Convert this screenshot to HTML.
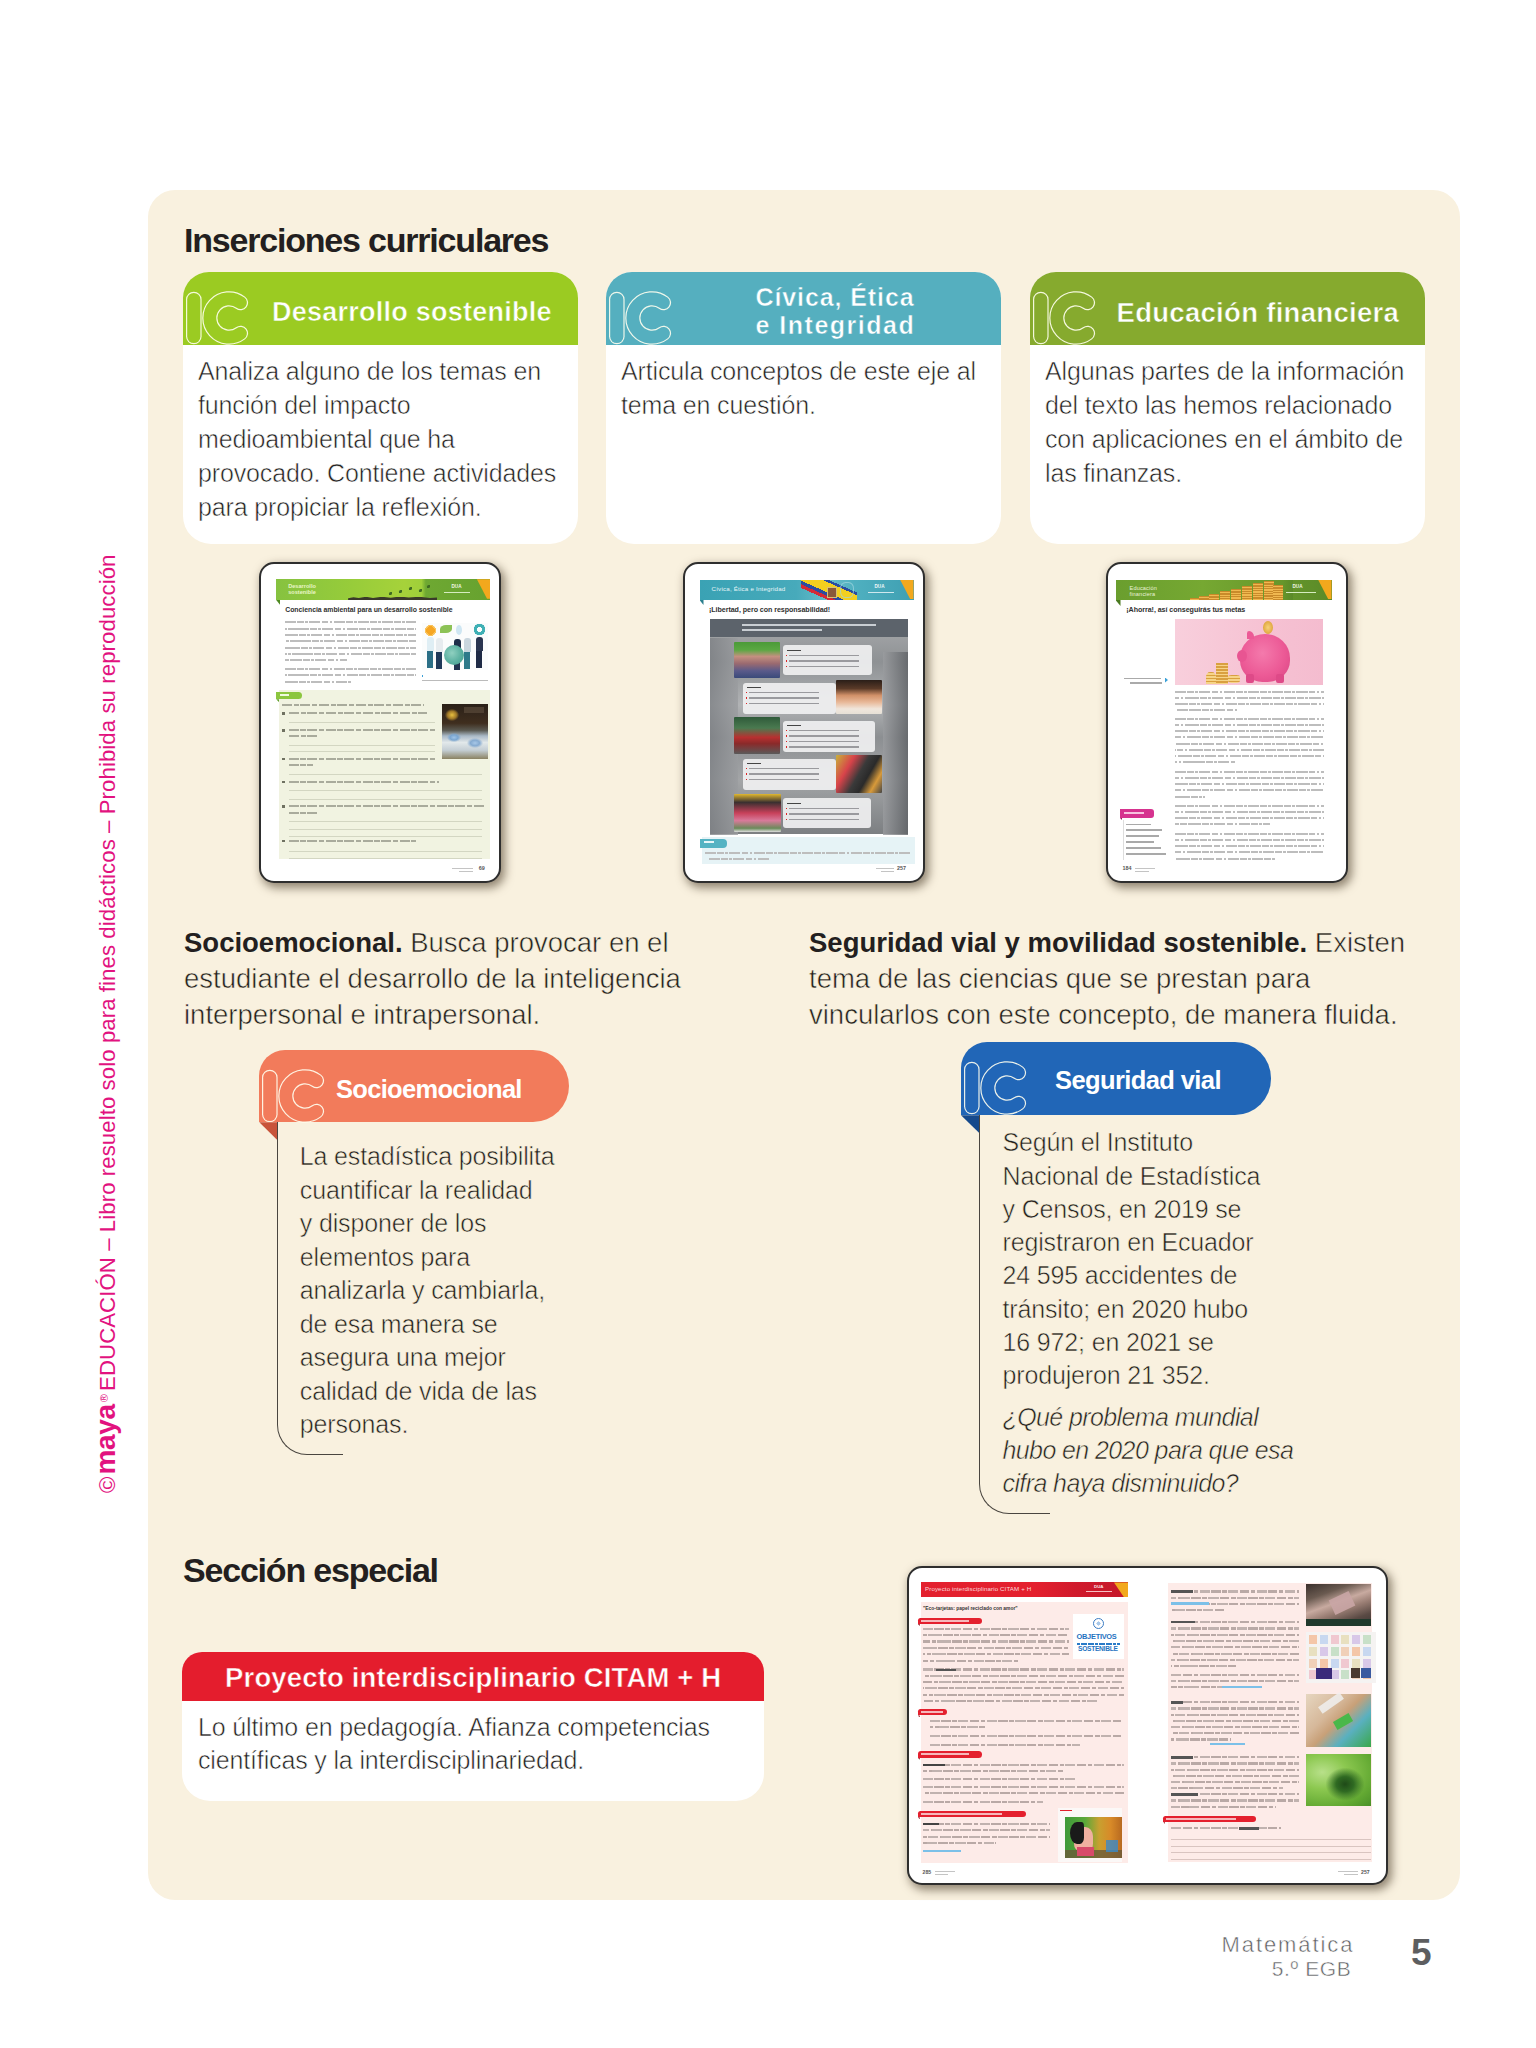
<!DOCTYPE html>
<html lang="es"><head><meta charset="utf-8"><title>Inserciones curriculares</title>
<style>
*{margin:0;padding:0;box-sizing:border-box}
html,body{width:1536px;height:2048px;background:#fff;overflow:hidden}
body{position:relative;font-family:"Liberation Sans",sans-serif;color:#2b2a29}
.a{position:absolute}
.t{position:absolute;white-space:nowrap;line-height:1}
.panel{left:148px;top:190px;width:1312px;height:1710px;background:#f9f1df;border-radius:27px}
.h1{font-weight:bold;font-size:34px;letter-spacing:-1.2px;color:#231f20}
.card{position:absolute;top:272px;width:395px;height:272px;background:#fff;border-radius:26px 26px 28px 28px;overflow:hidden}
.card .hd{position:absolute;left:0;top:0;width:100%;height:73px}
.ht{position:absolute;white-space:nowrap;line-height:1;color:#fff;font-weight:bold}
.body{font-size:25px;letter-spacing:-0.15px;line-height:34px;color:#231f20;-webkit-text-stroke:0.55px var(--sb,#fff)}
.bg{--sb:#f9f1df}
.thin{color:#231f20;-webkit-text-stroke:0.55px #f9f1df}
.thin b{-webkit-text-stroke:0}
.ic{position:absolute;left:0;top:0}
.fr{position:absolute;background:#fff;border:2.2px solid #2e2e2e;border-radius:15px;box-shadow:3px 4px 10px 1px rgba(60,45,25,.55);overflow:hidden}
.fr .a{position:absolute}
</style></head>
<body>
<svg width="0" height="0" style="position:absolute"><defs>
<g id="icg" fill="none" stroke-linecap="round">
<path d="M10.8 27.5V64.5" stroke="currentColor" stroke-width="15.6"/>
<path d="M57.5 30.7A19.15 19.15 0 1 0 57.5 61.3" stroke="currentColor" stroke-width="15.2"/>
<path d="M10.8 27.5V64.5" stroke="var(--bg)" stroke-width="13.2"/>
<path d="M57.5 30.7A19.15 19.15 0 1 0 57.5 61.3" stroke="var(--bg)" stroke-width="12.8"/>
</g></defs></svg>
<div class="a panel"></div>
<div class="t h1" style="left:184px;top:223.4px">Inserciones curriculares</div>
<div class="card" style="left:183px"><div class="hd" style="background:#9bcb22"></div><svg class="ic" width="72" height="73" style="left:0px;top:0px;--bg:#9bcb22;color:rgba(255,255,240,.9)"><use href="#icg"/></svg><div class="ht" style="left:89px;top:27px;font-size:27px;letter-spacing:0.25px;-webkit-text-stroke:0.5px #9bcb22">Desarrollo sostenible</div><div class="t body" style="left:15px;top:82px">Analiza alguno de los temas en<br>función del impacto<br>medioambiental que ha<br>provocado. Contiene actividades<br>para propiciar la reflexión.</div></div>
<div class="card" style="left:606px"><div class="hd" style="background:#55afbf"></div><svg class="ic" width="72" height="73" style="left:0px;top:0px;--bg:#55afbf;color:rgba(255,255,240,.9)"><use href="#icg"/></svg><div class="ht" style="left:149.5px;top:10.6px;font-size:25px;line-height:28.7px;letter-spacing:0.9px;-webkit-text-stroke:0.5px #55afbf">Cívica, Ética<br><span style="letter-spacing:1.5px">e Integridad</span></div><div class="t body" style="left:15px;top:82px">Articula conceptos de este eje al<br>tema en cuestión.</div></div>
<div class="card" style="left:1030px"><div class="hd" style="background:#86aa2e"></div><svg class="ic" width="72" height="73" style="left:0px;top:0px;--bg:#86aa2e;color:rgba(255,255,240,.9)"><use href="#icg"/></svg><div class="ht" style="left:86.5px;top:27px;font-size:27.5px;letter-spacing:0.3px;-webkit-text-stroke:0.5px #86aa2e">Educación financiera</div><div class="t body" style="left:15px;top:82px">Algunas partes de la información<br>del texto las hemos relacionado<br>con aplicaciones en el ámbito de<br>las finanzas.</div></div>
<div class="fr" style="left:259px;top:562px;width:242px;height:321px"><div class="a" style="left:15.2px;top:15.3px;width:214.2px;height:20.7px;background:linear-gradient(90deg,#86c240 0%,#97cc3a 35%,#a6d23a 60%,#9fcf3a 68%,#6ea832 70%,#67a22f 100%)"></div><div class="a" style="left:15.2px;top:36.0px;width:4.0px;height:5.0px;background:#4f8a22;clip-path:polygon(0 0,100% 0,100% 100%)"></div><div class="a" style="left:215.9px;top:15.3px;width:13.5px;height:19.5px;background:#f2a81d;clip-path:polygon(0 0,100% 0,100% 100%,75% 100%)"></div><div class="t" style="left:27.2px;top:20.0px;font-size:5.6px;font-weight:bold;letter-spacing:0px;color:#e9f6c8;line-height:5.8px">Desarrollo<br>sostenible</div><div class="a" style="left:87.1px;top:32.5px;width:89.0px;height:3.5px;background:#3a3a2a;clip-path:polygon(0 50%,6% 20%,12% 45%,20% 10%,28% 40%,38% 5%,48% 35%,58% 0,68% 30%,80% 10%,92% 40%,100% 30%,100% 100%,0 100%)"></div><div class="a" style="left:127.5px;top:27.5px;width:3.0px;height:3.0px;background:#3f6a22;border-radius:50% 0"></div><div class="a" style="left:137.5px;top:25.5px;width:3.0px;height:3.0px;background:#3f6a22;border-radius:50% 0"></div><div class="a" style="left:147.5px;top:22.5px;width:3.0px;height:3.0px;background:#3f6a22;border-radius:50% 0"></div><div class="a" style="left:157.5px;top:24.5px;width:3.0px;height:3.0px;background:#3f6a22;border-radius:50% 0"></div><div class="a" style="left:165.5px;top:20.5px;width:3.0px;height:3.0px;background:#3f6a22;border-radius:50% 0"></div><div class="t" style="left:190.5px;top:21.0px;font-size:4.6px;font-weight:bold;letter-spacing:0px;color:#f0f7e6;">DUA</div><div class="a" style="left:183.0px;top:28.0px;width:25.5px;height:1.2px;background:#d6ecc0"></div><div class="t" style="left:24.2px;top:42.5px;font-size:6.9px;font-weight:bold;letter-spacing:-0.03px;color:#2f2f2f;">Conciencia ambiental para un desarrollo sostenible</div><div class="a" style="left:24.2px;top:57.1px;width:131.0px;height:2.1px;background:repeating-linear-gradient(90deg,#bdbdbd 0 11px,transparent 11px 12.3px,#bdbdbd 12.3px 19px,transparent 19px 20.3px,#bdbdbd 20.3px 23px,transparent 23px 24.3px);background-position:0px 0"></div><div class="a" style="left:24.2px;top:63.5px;width:131.0px;height:2.1px;background:repeating-linear-gradient(90deg,#bdbdbd 0 11px,transparent 11px 12.3px,#bdbdbd 12.3px 19px,transparent 19px 20.3px,#bdbdbd 20.3px 23px,transparent 23px 24.3px);background-position:13px 0"></div><div class="a" style="left:24.2px;top:69.8px;width:131.0px;height:2.1px;background:repeating-linear-gradient(90deg,#bdbdbd 0 11px,transparent 11px 12.3px,#bdbdbd 12.3px 19px,transparent 19px 20.3px,#bdbdbd 20.3px 23px,transparent 23px 24.3px);background-position:2px 0"></div><div class="a" style="left:24.2px;top:76.2px;width:131.0px;height:2.1px;background:repeating-linear-gradient(90deg,#bdbdbd 0 11px,transparent 11px 12.3px,#bdbdbd 12.3px 19px,transparent 19px 20.3px,#bdbdbd 20.3px 23px,transparent 23px 24.3px);background-position:15px 0"></div><div class="a" style="left:24.2px;top:82.5px;width:131.0px;height:2.1px;background:repeating-linear-gradient(90deg,#bdbdbd 0 11px,transparent 11px 12.3px,#bdbdbd 12.3px 19px,transparent 19px 20.3px,#bdbdbd 20.3px 23px,transparent 23px 24.3px);background-position:4px 0"></div><div class="a" style="left:24.2px;top:88.8px;width:131.0px;height:2.1px;background:repeating-linear-gradient(90deg,#bdbdbd 0 11px,transparent 11px 12.3px,#bdbdbd 12.3px 19px,transparent 19px 20.3px,#bdbdbd 20.3px 23px,transparent 23px 24.3px);background-position:17px 0"></div><div class="a" style="left:24.2px;top:95.2px;width:62.0px;height:2.1px;background:repeating-linear-gradient(90deg,#bdbdbd 0 11px,transparent 11px 12.3px,#bdbdbd 12.3px 19px,transparent 19px 20.3px,#bdbdbd 20.3px 23px,transparent 23px 24.3px);background-position:6px 0"></div><div class="a" style="left:24.2px;top:104.1px;width:131.0px;height:2.1px;background:repeating-linear-gradient(90deg,#bdbdbd 0 11px,transparent 11px 12.3px,#bdbdbd 12.3px 19px,transparent 19px 20.3px,#bdbdbd 20.3px 23px,transparent 23px 24.3px);background-position:0px 0"></div><div class="a" style="left:24.2px;top:110.3px;width:131.0px;height:2.1px;background:repeating-linear-gradient(90deg,#bdbdbd 0 11px,transparent 11px 12.3px,#bdbdbd 12.3px 19px,transparent 19px 20.3px,#bdbdbd 20.3px 23px,transparent 23px 24.3px);background-position:13px 0"></div><div class="a" style="left:24.2px;top:116.5px;width:66.0px;height:2.1px;background:repeating-linear-gradient(90deg,#bdbdbd 0 11px,transparent 11px 12.3px,#bdbdbd 12.3px 19px,transparent 19px 20.3px,#bdbdbd 20.3px 23px,transparent 23px 24.3px);background-position:2px 0"></div><div class="a" style="left:160.5px;top:58.5px;width:66.6px;height:47.8px;background:#fbfcfc"></div><div class="a" style="left:162.5px;top:59.5px;width:13.0px;height:13.0px;background:radial-gradient(circle,#f6a623 0 45%,#f9c25a 46% 60%,transparent 62%)"></div><div class="a" style="left:178.5px;top:60.5px;width:12.0px;height:8.0px;background:#8cc256;border-radius:50% 0"></div><div class="a" style="left:194.5px;top:60.5px;width:6.0px;height:10.0px;background:#cfe6f2;border-radius:50% 50% 50% 50%"></div><div class="a" style="left:211.5px;top:58.5px;width:13.0px;height:13.0px;background:radial-gradient(circle,transparent 0 25%,#3fb0b5 27% 62%,transparent 64%)"></div><div class="a" style="left:165.5px;top:72.5px;width:7.0px;height:14.0px;background:#dfeef4;border-radius:3px 3px 0 0"></div><div class="a" style="left:166.0px;top:86.5px;width:6.0px;height:17.0px;background:#2b6f86"></div><div class="a" style="left:174.5px;top:73.5px;width:7.0px;height:14.0px;background:#e7ecef;border-radius:3px 3px 0 0"></div><div class="a" style="left:175.0px;top:87.5px;width:6.0px;height:17.0px;background:#203a5a"></div><div class="a" style="left:192.5px;top:74.5px;width:7.0px;height:14.0px;background:#1f2f4a;border-radius:3px 3px 0 0"></div><div class="a" style="left:193.0px;top:88.5px;width:6.0px;height:17.0px;background:#22344f"></div><div class="a" style="left:202.5px;top:73.5px;width:7.0px;height:14.0px;background:#c9d6de;border-radius:3px 3px 0 0"></div><div class="a" style="left:203.0px;top:87.5px;width:6.0px;height:17.0px;background:#2e7a8a"></div><div class="a" style="left:214.5px;top:72.5px;width:7.0px;height:14.0px;background:#2a3550;border-radius:3px 3px 0 0"></div><div class="a" style="left:215.0px;top:86.5px;width:6.0px;height:17.0px;background:#1e2a45"></div><div class="a" style="left:182.5px;top:80.5px;width:20.0px;height:20.0px;background:radial-gradient(circle at 40% 40%,#8fd0c0 0%,#5fb3a3 50%,#3f9a8a 100%);border-radius:50%"></div><div class="a" style="left:160.5px;top:111.0px;width:1.5px;height:1.5px;background:#3aa0d8"></div><div class="a" style="left:160.5px;top:115.8px;width:66.0px;height:1.3px;background:#bbb"></div><div class="a" style="left:18.1px;top:125.9px;width:211.2px;height:169.6px;background:#f1f3e1"></div><div class="a" style="left:15.2px;top:127.7px;width:26.0px;height:7.5px;background:#8cc63f;border-radius:0 4px 4px 0"></div><div class="a" style="left:15.2px;top:135.2px;width:3.0px;height:3.0px;background:#5f9f2a;clip-path:polygon(0 0,100% 0,100% 100%)"></div><div class="a" style="left:18.5px;top:129.8px;width:9.0px;height:2.0px;background:#effae0"></div><div class="a" style="left:180.5px;top:139.5px;width:46.0px;height:55.0px;background:linear-gradient(180deg,#2a2018 0%,#3f2e1e 35%,#5a5a52 48%,#a9b9c6 58%,#e2e8ea 70%,#c4ced4 84%,#8a8262 100%)"></div><div class="a" style="left:183.5px;top:144.5px;width:14.0px;height:12.0px;background:radial-gradient(ellipse,#e8c040 0%,#a07828 45%,transparent 72%)"></div><div class="a" style="left:202.5px;top:142.5px;width:20.0px;height:6.0px;background:#5a4a3a;opacity:.7"></div><div class="a" style="left:185.5px;top:168.5px;width:14.0px;height:9.0px;background:radial-gradient(ellipse,#9fc3e6 0%,#7aa6d0 40%,transparent 72%)"></div><div class="a" style="left:205.5px;top:173.5px;width:16.0px;height:10.0px;background:radial-gradient(ellipse,#a8c8e8 0%,#85aad0 40%,transparent 72%)"></div><div class="a" style="left:21.2px;top:139.5px;width:142.0px;height:2.0px;background:repeating-linear-gradient(90deg,#a9ab9c 0 10px,transparent 10px 11.5px,#a9ab9c 11.5px 17px,transparent 17px 18.5px)"></div><div class="a" style="left:21.0px;top:148.2px;width:3.0px;height:2.6px;background:#6f7161"></div><div class="a" style="left:28.0px;top:148.2px;width:138.0px;height:2.0px;background:repeating-linear-gradient(90deg,#a9ab9c 0 10px,transparent 10px 11.5px,#a9ab9c 11.5px 17px,transparent 17px 18.5px)"></div><div class="a" style="left:21.0px;top:165.2px;width:3.0px;height:2.6px;background:#6f7161"></div><div class="a" style="left:28.0px;top:165.2px;width:146.0px;height:2.0px;background:repeating-linear-gradient(90deg,#a9ab9c 0 10px,transparent 10px 11.5px,#a9ab9c 11.5px 17px,transparent 17px 18.5px)"></div><div class="a" style="left:28.0px;top:171.4px;width:28.0px;height:2.0px;background:repeating-linear-gradient(90deg,#a9ab9c 0 10px,transparent 10px 11.5px,#a9ab9c 11.5px 17px,transparent 17px 18.5px)"></div><div class="a" style="left:21.0px;top:193.7px;width:3.0px;height:2.6px;background:#6f7161"></div><div class="a" style="left:28.0px;top:193.7px;width:146.0px;height:2.0px;background:repeating-linear-gradient(90deg,#a9ab9c 0 10px,transparent 10px 11.5px,#a9ab9c 11.5px 17px,transparent 17px 18.5px)"></div><div class="a" style="left:28.0px;top:199.9px;width:24.0px;height:2.0px;background:repeating-linear-gradient(90deg,#a9ab9c 0 10px,transparent 10px 11.5px,#a9ab9c 11.5px 17px,transparent 17px 18.5px)"></div><div class="a" style="left:21.0px;top:216.5px;width:3.0px;height:2.6px;background:#6f7161"></div><div class="a" style="left:28.0px;top:216.5px;width:150.0px;height:2.0px;background:repeating-linear-gradient(90deg,#a9ab9c 0 10px,transparent 10px 11.5px,#a9ab9c 11.5px 17px,transparent 17px 18.5px)"></div><div class="a" style="left:21.0px;top:241.3px;width:3.0px;height:2.6px;background:#6f7161"></div><div class="a" style="left:28.0px;top:241.3px;width:195.0px;height:2.0px;background:repeating-linear-gradient(90deg,#a9ab9c 0 10px,transparent 10px 11.5px,#a9ab9c 11.5px 17px,transparent 17px 18.5px)"></div><div class="a" style="left:28.0px;top:247.5px;width:30.0px;height:2.0px;background:repeating-linear-gradient(90deg,#a9ab9c 0 10px,transparent 10px 11.5px,#a9ab9c 11.5px 17px,transparent 17px 18.5px)"></div><div class="a" style="left:21.0px;top:275.7px;width:3.0px;height:2.6px;background:#6f7161"></div><div class="a" style="left:28.0px;top:275.7px;width:127.0px;height:2.0px;background:repeating-linear-gradient(90deg,#a9ab9c 0 10px,transparent 10px 11.5px,#a9ab9c 11.5px 17px,transparent 17px 18.5px)"></div><div class="a" style="left:28.0px;top:157.7px;width:146.0px;height:0.9px;background:#d3d6c2"></div><div class="a" style="left:28.0px;top:180.9px;width:146.0px;height:0.9px;background:#d3d6c2"></div><div class="a" style="left:28.0px;top:187.2px;width:146.0px;height:0.9px;background:#d3d6c2"></div><div class="a" style="left:28.0px;top:209.7px;width:193.0px;height:0.9px;background:#d3d6c2"></div><div class="a" style="left:28.0px;top:226.1px;width:193.0px;height:0.9px;background:#d3d6c2"></div><div class="a" style="left:28.0px;top:234.5px;width:193.0px;height:0.9px;background:#d3d6c2"></div><div class="a" style="left:28.0px;top:257.3px;width:193.0px;height:0.9px;background:#d3d6c2"></div><div class="a" style="left:28.0px;top:264.5px;width:193.0px;height:0.9px;background:#d3d6c2"></div><div class="a" style="left:28.0px;top:271.5px;width:193.0px;height:0.9px;background:#d3d6c2"></div><div class="a" style="left:28.0px;top:286.9px;width:193.0px;height:0.9px;background:#d3d6c2"></div><div class="a" style="left:28.0px;top:294.0px;width:193.0px;height:0.9px;background:#d3d6c2"></div><div class="a" style="left:190.5px;top:303.5px;width:21.0px;height:1.2px;background:#c4c4c4"></div><div class="a" style="left:197.5px;top:306.5px;width:14.0px;height:1.2px;background:#c4c4c4"></div><div class="t" style="left:217.7px;top:302.0px;font-size:5.4px;font-weight:bold;letter-spacing:0px;color:#555;">69</div></div>
<div class="fr" style="left:683px;top:562px;width:242px;height:321px"><div class="a" style="left:14.5px;top:15.5px;width:214.0px;height:20.6px;background:linear-gradient(90deg,#3aa2b4 0%,#47aabb 45%,#6bbdca 60%,#4fb0c0 72%,#3f9fb2 100%)"></div><div class="a" style="left:14.5px;top:36.1px;width:4.0px;height:5.0px;background:#2a7f8e;clip-path:polygon(0 0,100% 0,100% 100%)"></div><div class="a" style="left:115.5px;top:15.5px;width:56.0px;height:20.6px;background:linear-gradient(24deg,transparent 0 27%,#d62a35 27% 35%,#2b4da0 35% 43%,#f3cf1f 43% 66%,#2b4da0 66% 72%,transparent 72%)"></div><div class="a" style="left:141.5px;top:22.5px;width:10.0px;height:11.0px;background:#8a5a3a;border:1px solid #d8c070"></div><div class="a" style="left:154.5px;top:17.5px;width:14.0px;height:16.0px;border:1px solid #9fd6df;border-radius:40%;opacity:.7"></div><div class="a" style="left:215.0px;top:15.5px;width:13.5px;height:19.5px;background:#f2a81d;clip-path:polygon(0 0,100% 0,100% 100%,75% 100%)"></div><div class="t" style="left:26.5px;top:22.0px;font-size:6.2px;font-weight:bold;letter-spacing:0.2px;color:#e6f6f8;font-weight:normal">Cívica, Ética e Integridad</div><div class="t" style="left:189.5px;top:21.0px;font-size:4.6px;font-weight:bold;letter-spacing:0px;color:#f0f7f9;">DUA</div><div class="a" style="left:182.5px;top:28.0px;width:26.0px;height:1.2px;background:#cfe8ee"></div><div class="t" style="left:24.0px;top:42.5px;font-size:7.1px;font-weight:bold;letter-spacing:-0.05px;color:#2f2f2f;">¡Libertad, pero con responsabilidad!</div><div class="a" style="left:24.5px;top:55.2px;width:198.0px;height:215.3px;background:linear-gradient(180deg,#a9abad 0%,#8e9194 20%,#b1b3b5 40%,#8c8f92 55%,#a3a5a7 75%,#7c7f82 100%)"></div><div class="a" style="left:24.5px;top:73.5px;width:28.0px;height:197.0px;background:linear-gradient(90deg,#7e8185,#9a9c9f);opacity:.8"></div><div class="a" style="left:197.5px;top:87.5px;width:25.0px;height:183.0px;background:linear-gradient(90deg,#9a9c9f,#5e6165);opacity:.8"></div><div class="a" style="left:24.5px;top:55.2px;width:198.0px;height:18.3px;background:#5c636b"></div><div class="a" style="left:56.5px;top:60.2px;width:134.0px;height:1.6px;background:#c9ced3"></div><div class="a" style="left:56.5px;top:65.2px;width:80.0px;height:1.6px;background:#c9ced3"></div><div class="a" style="left:97.5px;top:81.2px;width:89.0px;height:30.0px;background:rgba(240,240,241,.92);border-radius:3px"></div><div class="a" style="left:48.9px;top:77.5px;width:46.0px;height:36.6px;background:linear-gradient(180deg,#4b9a38 0%,#5aa842 22%,#c49080 40%,#9a6a70 60%,#5a5a8a 80%,#3a4a7a 100%);border-radius:1px"></div><div class="a" style="left:57.5px;top:118.5px;width:93.0px;height:31.0px;background:rgba(240,240,241,.92);border-radius:3px"></div><div class="a" style="left:150.5px;top:115.8px;width:46.3px;height:34.7px;background:linear-gradient(180deg,#2a1e18 0%,#5a3a28 25%,#d09068 45%,#e8b898 65%,#f0e6dc 85%,#e6e0d6 100%);border-radius:1px"></div><div class="a" style="left:97.5px;top:156.5px;width:92.0px;height:31.0px;background:rgba(240,240,241,.92);border-radius:3px"></div><div class="a" style="left:48.5px;top:153.0px;width:46.0px;height:36.5px;background:linear-gradient(180deg,#2f5a3a 0%,#4a7a50 30%,#b83030 55%,#8a2a2a 72%,#5a5a5a 100%);border-radius:1px"></div><div class="a" style="left:57.5px;top:194.5px;width:93.0px;height:31.0px;background:rgba(240,240,241,.92);border-radius:3px"></div><div class="a" style="left:150.5px;top:191.1px;width:46.3px;height:38.0px;background:linear-gradient(120deg,#c8b23a 0%,#d8434a 28%,#3a3a3a 50%,#2a2a2a 65%,#d89a3a 82%,#444 100%);border-radius:1px"></div><div class="a" style="left:97.5px;top:234.2px;width:88.0px;height:30.3px;background:rgba(240,240,241,.92);border-radius:3px"></div><div class="a" style="left:48.5px;top:230.0px;width:47.0px;height:38.0px;background:linear-gradient(180deg,#e0b830 0%,#3a3030 22%,#c8405a 50%,#d87a9a 70%,#6a8a5a 90%,#ddd 100%);border-radius:1px"></div><div class="a" style="left:101.5px;top:85.5px;width:14.0px;height:1.8px;background:#444"></div><div class="a" style="left:103.5px;top:90.5px;width:70.0px;height:1.6px;background:#9a9a9e"></div><div class="a" style="left:100.5px;top:90.5px;width:1.6px;height:1.6px;background:#d22"></div><div class="a" style="left:103.5px;top:96.0px;width:70.0px;height:1.6px;background:#9a9a9e"></div><div class="a" style="left:100.5px;top:96.0px;width:1.6px;height:1.6px;background:#d22"></div><div class="a" style="left:103.5px;top:101.5px;width:70.0px;height:1.6px;background:#9a9a9e"></div><div class="a" style="left:100.5px;top:101.5px;width:1.6px;height:1.6px;background:#d22"></div><div class="a" style="left:61.5px;top:122.5px;width:14.0px;height:1.8px;background:#444"></div><div class="a" style="left:63.5px;top:127.5px;width:70.0px;height:1.6px;background:#9a9a9e"></div><div class="a" style="left:60.5px;top:127.5px;width:1.6px;height:1.6px;background:#d22"></div><div class="a" style="left:63.5px;top:133.0px;width:70.0px;height:1.6px;background:#9a9a9e"></div><div class="a" style="left:60.5px;top:133.0px;width:1.6px;height:1.6px;background:#d22"></div><div class="a" style="left:63.5px;top:138.5px;width:70.0px;height:1.6px;background:#9a9a9e"></div><div class="a" style="left:60.5px;top:138.5px;width:1.6px;height:1.6px;background:#d22"></div><div class="a" style="left:101.5px;top:160.5px;width:14.0px;height:1.8px;background:#444"></div><div class="a" style="left:103.5px;top:165.5px;width:70.0px;height:1.6px;background:#9a9a9e"></div><div class="a" style="left:100.5px;top:165.5px;width:1.6px;height:1.6px;background:#d22"></div><div class="a" style="left:103.5px;top:171.0px;width:70.0px;height:1.6px;background:#9a9a9e"></div><div class="a" style="left:100.5px;top:171.0px;width:1.6px;height:1.6px;background:#d22"></div><div class="a" style="left:103.5px;top:176.5px;width:70.0px;height:1.6px;background:#9a9a9e"></div><div class="a" style="left:100.5px;top:176.5px;width:1.6px;height:1.6px;background:#d22"></div><div class="a" style="left:103.5px;top:182.0px;width:70.0px;height:1.6px;background:#9a9a9e"></div><div class="a" style="left:100.5px;top:182.0px;width:1.6px;height:1.6px;background:#d22"></div><div class="a" style="left:61.5px;top:198.5px;width:14.0px;height:1.8px;background:#444"></div><div class="a" style="left:63.5px;top:203.5px;width:70.0px;height:1.6px;background:#9a9a9e"></div><div class="a" style="left:60.5px;top:203.5px;width:1.6px;height:1.6px;background:#d22"></div><div class="a" style="left:63.5px;top:209.0px;width:70.0px;height:1.6px;background:#9a9a9e"></div><div class="a" style="left:60.5px;top:209.0px;width:1.6px;height:1.6px;background:#d22"></div><div class="a" style="left:63.5px;top:214.5px;width:70.0px;height:1.6px;background:#9a9a9e"></div><div class="a" style="left:60.5px;top:214.5px;width:1.6px;height:1.6px;background:#d22"></div><div class="a" style="left:101.5px;top:238.5px;width:14.0px;height:1.8px;background:#444"></div><div class="a" style="left:103.5px;top:243.5px;width:70.0px;height:1.6px;background:#9a9a9e"></div><div class="a" style="left:100.5px;top:243.5px;width:1.6px;height:1.6px;background:#d22"></div><div class="a" style="left:103.5px;top:249.0px;width:70.0px;height:1.6px;background:#9a9a9e"></div><div class="a" style="left:100.5px;top:249.0px;width:1.6px;height:1.6px;background:#d22"></div><div class="a" style="left:103.5px;top:254.5px;width:70.0px;height:1.6px;background:#9a9a9e"></div><div class="a" style="left:100.5px;top:254.5px;width:1.6px;height:1.6px;background:#d22"></div><div class="a" style="left:16.5px;top:273.2px;width:213.0px;height:27.0px;background:#e6f3f6"></div><div class="a" style="left:14.5px;top:274.5px;width:27.5px;height:9.0px;background:#55b3c3;border-radius:0 4px 4px 0"></div><div class="a" style="left:18.5px;top:277.0px;width:10.0px;height:2.0px;background:#e8f6f8"></div><div class="a" style="left:19.5px;top:288.0px;width:205.0px;height:2.0px;background:repeating-linear-gradient(90deg,#bdbdbd 0 11px,transparent 11px 12.3px,#bdbdbd 12.3px 19px,transparent 19px 20.3px,#bdbdbd 20.3px 23px,transparent 23px 24.3px)"></div><div class="a" style="left:23.5px;top:293.5px;width:60.0px;height:2.0px;background:repeating-linear-gradient(90deg,#bdbdbd 0 11px,transparent 11px 12.3px,#bdbdbd 12.3px 19px,transparent 19px 20.3px,#bdbdbd 20.3px 23px,transparent 23px 24.3px)"></div><div class="a" style="left:190.5px;top:303.5px;width:18.0px;height:1.2px;background:#c4c4c4"></div><div class="a" style="left:195.5px;top:306.5px;width:13.0px;height:1.2px;background:#c4c4c4"></div><div class="t" style="left:212.0px;top:302.0px;font-size:5.4px;font-weight:bold;letter-spacing:0px;color:#555;">257</div></div>
<div class="fr" style="left:1106px;top:562px;width:242px;height:321px"><div class="a" style="left:7.5px;top:15.5px;width:216.0px;height:20.6px;background:linear-gradient(90deg,#6a9e2e 0%,#76a832 40%,#6a9a2c 70%,#5a8a28 100%)"></div><div class="a" style="left:7.5px;top:36.1px;width:5.0px;height:6.0px;background:#4a7a20;clip-path:polygon(0 0,100% 0,100% 100%)"></div><div class="a" style="left:81.5px;top:34.1px;width:10.5px;height:2.0px;background:repeating-linear-gradient(180deg,#c98a2a 0 1.2px,#f0b850 1.2px 2.4px),#d89a3a"></div><div class="a" style="left:90.5px;top:32.1px;width:10.5px;height:4.0px;background:repeating-linear-gradient(180deg,#c98a2a 0 1.2px,#f0b850 1.2px 2.4px),#d89a3a"></div><div class="a" style="left:100.5px;top:30.1px;width:10.5px;height:6.0px;background:repeating-linear-gradient(180deg,#c98a2a 0 1.2px,#f0b850 1.2px 2.4px),#d89a3a"></div><div class="a" style="left:111.5px;top:27.1px;width:10.5px;height:9.0px;background:repeating-linear-gradient(180deg,#c98a2a 0 1.2px,#f0b850 1.2px 2.4px),#d89a3a"></div><div class="a" style="left:122.5px;top:25.1px;width:10.5px;height:11.0px;background:repeating-linear-gradient(180deg,#c98a2a 0 1.2px,#f0b850 1.2px 2.4px),#d89a3a"></div><div class="a" style="left:133.5px;top:22.1px;width:10.5px;height:14.0px;background:repeating-linear-gradient(180deg,#c98a2a 0 1.2px,#f0b850 1.2px 2.4px),#d89a3a"></div><div class="a" style="left:144.5px;top:19.1px;width:10.5px;height:17.0px;background:repeating-linear-gradient(180deg,#c98a2a 0 1.2px,#f0b850 1.2px 2.4px),#d89a3a"></div><div class="a" style="left:155.5px;top:16.6px;width:10.5px;height:19.5px;background:repeating-linear-gradient(180deg,#c98a2a 0 1.2px,#f0b850 1.2px 2.4px),#d89a3a"></div><div class="a" style="left:164.5px;top:21.1px;width:10.5px;height:15.0px;background:repeating-linear-gradient(180deg,#c98a2a 0 1.2px,#f0b850 1.2px 2.4px),#d89a3a"></div><div class="a" style="left:174.5px;top:15.5px;width:10.0px;height:20.6px;background:linear-gradient(90deg,rgba(90,138,40,.0),#5a8a28)"></div><div class="a" style="left:210.0px;top:15.5px;width:13.5px;height:19.5px;background:#f2a81d;clip-path:polygon(0 0,100% 0,100% 100%,75% 100%)"></div><div class="t" style="left:21.5px;top:20.5px;font-size:5.6px;font-weight:bold;letter-spacing:0.15px;color:#eaf3da;font-weight:normal;line-height:6px">Educación<br>financiera</div><div class="t" style="left:184.5px;top:21.0px;font-size:4.6px;font-weight:bold;letter-spacing:0px;color:#f0f7e6;">DUA</div><div class="a" style="left:177.5px;top:28.0px;width:30.0px;height:1.2px;background:#d6ecc0"></div><div class="t" style="left:18.3px;top:42.5px;font-size:7.1px;font-weight:bold;letter-spacing:-0.05px;color:#2f2f2f;">¡Ahorra!, así conseguirás tus metas</div><div class="a" style="left:66.5px;top:55.2px;width:148.4px;height:65.8px;background:linear-gradient(90deg,#f8cfdc 0%,#f6c2d3 60%,#f4bccf 100%)"></div><div class="a" style="left:131.5px;top:69.5px;width:50.0px;height:48.0px;background:radial-gradient(ellipse at 45% 40%,#f47aac 0%,#ec5a96 55%,#d94482 100%);border-radius:50% 50% 45% 45%"></div><div class="a" style="left:128.5px;top:85.5px;width:10.0px;height:12.0px;background:#e85592;border-radius:50%"></div><div class="a" style="left:138.5px;top:66.5px;width:7.0px;height:8.0px;background:#ec5a96;border-radius:30% 70% 0 0"></div><div class="a" style="left:137.5px;top:109.5px;width:8.0px;height:9.0px;background:#de4a88;border-radius:2px"></div><div class="a" style="left:167.5px;top:109.5px;width:8.0px;height:9.0px;background:#de4a88;border-radius:2px"></div><div class="a" style="left:154.5px;top:56.5px;width:10.0px;height:13.0px;background:radial-gradient(ellipse,#f7d27a 0%,#e0a840 70%,#c88a30 100%);border-radius:50%"></div><div class="a" style="left:107.5px;top:98.5px;width:12.0px;height:21.0px;background:repeating-linear-gradient(180deg,#d9a040 0 1.5px,#f6d488 1.5px 3px)"></div><div class="a" style="left:97.5px;top:107.5px;width:10.0px;height:12.0px;background:repeating-linear-gradient(180deg,#d9a040 0 1.5px,#f6d488 1.5px 3px);border-radius:40% 40% 0 0"></div><div class="a" style="left:119.5px;top:110.5px;width:12.0px;height:8.0px;background:repeating-linear-gradient(180deg,#d9a040 0 1.5px,#f6d488 1.5px 3px);border-radius:30%"></div><div class="a" style="left:16.0px;top:113.5px;width:37.0px;height:1.6px;background:#aaa"></div><div class="a" style="left:21.5px;top:118.0px;width:32.0px;height:1.6px;background:#aaa"></div><div class="a" style="left:57.0px;top:113.5px;width:3.0px;height:5.0px;background:#3aa0d8;clip-path:polygon(0 0,100% 50%,0 100%)"></div><div class="a" style="left:66.5px;top:127.0px;width:149.5px;height:2.1px;background:repeating-linear-gradient(90deg,#bdbdbd 0 11px,transparent 11px 12.3px,#bdbdbd 12.3px 19px,transparent 19px 20.3px,#bdbdbd 20.3px 23px,transparent 23px 24.3px);background-position:0px 0"></div><div class="a" style="left:66.5px;top:133.2px;width:149.5px;height:2.1px;background:repeating-linear-gradient(90deg,#bdbdbd 0 11px,transparent 11px 12.3px,#bdbdbd 12.3px 19px,transparent 19px 20.3px,#bdbdbd 20.3px 23px,transparent 23px 24.3px);background-position:13px 0"></div><div class="a" style="left:66.5px;top:139.3px;width:149.5px;height:2.1px;background:repeating-linear-gradient(90deg,#bdbdbd 0 11px,transparent 11px 12.3px,#bdbdbd 12.3px 19px,transparent 19px 20.3px,#bdbdbd 20.3px 23px,transparent 23px 24.3px);background-position:2px 0"></div><div class="a" style="left:66.5px;top:145.4px;width:62.0px;height:2.1px;background:repeating-linear-gradient(90deg,#bdbdbd 0 11px,transparent 11px 12.3px,#bdbdbd 12.3px 19px,transparent 19px 20.3px,#bdbdbd 20.3px 23px,transparent 23px 24.3px);background-position:15px 0"></div><div class="a" style="left:66.5px;top:154.0px;width:149.5px;height:2.1px;background:repeating-linear-gradient(90deg,#bdbdbd 0 11px,transparent 11px 12.3px,#bdbdbd 12.3px 19px,transparent 19px 20.3px,#bdbdbd 20.3px 23px,transparent 23px 24.3px);background-position:0px 0"></div><div class="a" style="left:66.5px;top:160.2px;width:149.5px;height:2.1px;background:repeating-linear-gradient(90deg,#bdbdbd 0 11px,transparent 11px 12.3px,#bdbdbd 12.3px 19px,transparent 19px 20.3px,#bdbdbd 20.3px 23px,transparent 23px 24.3px);background-position:13px 0"></div><div class="a" style="left:66.5px;top:166.3px;width:149.5px;height:2.1px;background:repeating-linear-gradient(90deg,#bdbdbd 0 11px,transparent 11px 12.3px,#bdbdbd 12.3px 19px,transparent 19px 20.3px,#bdbdbd 20.3px 23px,transparent 23px 24.3px);background-position:2px 0"></div><div class="a" style="left:66.5px;top:172.4px;width:149.5px;height:2.1px;background:repeating-linear-gradient(90deg,#bdbdbd 0 11px,transparent 11px 12.3px,#bdbdbd 12.3px 19px,transparent 19px 20.3px,#bdbdbd 20.3px 23px,transparent 23px 24.3px);background-position:15px 0"></div><div class="a" style="left:66.5px;top:178.6px;width:149.5px;height:2.1px;background:repeating-linear-gradient(90deg,#bdbdbd 0 11px,transparent 11px 12.3px,#bdbdbd 12.3px 19px,transparent 19px 20.3px,#bdbdbd 20.3px 23px,transparent 23px 24.3px);background-position:4px 0"></div><div class="a" style="left:66.5px;top:184.8px;width:149.5px;height:2.1px;background:repeating-linear-gradient(90deg,#bdbdbd 0 11px,transparent 11px 12.3px,#bdbdbd 12.3px 19px,transparent 19px 20.3px,#bdbdbd 20.3px 23px,transparent 23px 24.3px);background-position:17px 0"></div><div class="a" style="left:66.5px;top:190.9px;width:149.5px;height:2.1px;background:repeating-linear-gradient(90deg,#bdbdbd 0 11px,transparent 11px 12.3px,#bdbdbd 12.3px 19px,transparent 19px 20.3px,#bdbdbd 20.3px 23px,transparent 23px 24.3px);background-position:6px 0"></div><div class="a" style="left:66.5px;top:197.1px;width:60.0px;height:2.1px;background:repeating-linear-gradient(90deg,#bdbdbd 0 11px,transparent 11px 12.3px,#bdbdbd 12.3px 19px,transparent 19px 20.3px,#bdbdbd 20.3px 23px,transparent 23px 24.3px);background-position:19px 0"></div><div class="a" style="left:66.5px;top:207.0px;width:149.5px;height:2.1px;background:repeating-linear-gradient(90deg,#bdbdbd 0 11px,transparent 11px 12.3px,#bdbdbd 12.3px 19px,transparent 19px 20.3px,#bdbdbd 20.3px 23px,transparent 23px 24.3px);background-position:0px 0"></div><div class="a" style="left:66.5px;top:213.2px;width:149.5px;height:2.1px;background:repeating-linear-gradient(90deg,#bdbdbd 0 11px,transparent 11px 12.3px,#bdbdbd 12.3px 19px,transparent 19px 20.3px,#bdbdbd 20.3px 23px,transparent 23px 24.3px);background-position:13px 0"></div><div class="a" style="left:66.5px;top:219.3px;width:149.5px;height:2.1px;background:repeating-linear-gradient(90deg,#bdbdbd 0 11px,transparent 11px 12.3px,#bdbdbd 12.3px 19px,transparent 19px 20.3px,#bdbdbd 20.3px 23px,transparent 23px 24.3px);background-position:2px 0"></div><div class="a" style="left:66.5px;top:225.4px;width:149.5px;height:2.1px;background:repeating-linear-gradient(90deg,#bdbdbd 0 11px,transparent 11px 12.3px,#bdbdbd 12.3px 19px,transparent 19px 20.3px,#bdbdbd 20.3px 23px,transparent 23px 24.3px);background-position:15px 0"></div><div class="a" style="left:66.5px;top:231.6px;width:30.0px;height:2.1px;background:repeating-linear-gradient(90deg,#bdbdbd 0 11px,transparent 11px 12.3px,#bdbdbd 12.3px 19px,transparent 19px 20.3px,#bdbdbd 20.3px 23px,transparent 23px 24.3px);background-position:4px 0"></div><div class="a" style="left:66.5px;top:241.0px;width:149.5px;height:2.1px;background:repeating-linear-gradient(90deg,#bdbdbd 0 11px,transparent 11px 12.3px,#bdbdbd 12.3px 19px,transparent 19px 20.3px,#bdbdbd 20.3px 23px,transparent 23px 24.3px);background-position:0px 0"></div><div class="a" style="left:66.5px;top:247.2px;width:149.5px;height:2.1px;background:repeating-linear-gradient(90deg,#bdbdbd 0 11px,transparent 11px 12.3px,#bdbdbd 12.3px 19px,transparent 19px 20.3px,#bdbdbd 20.3px 23px,transparent 23px 24.3px);background-position:13px 0"></div><div class="a" style="left:66.5px;top:253.3px;width:149.5px;height:2.1px;background:repeating-linear-gradient(90deg,#bdbdbd 0 11px,transparent 11px 12.3px,#bdbdbd 12.3px 19px,transparent 19px 20.3px,#bdbdbd 20.3px 23px,transparent 23px 24.3px);background-position:2px 0"></div><div class="a" style="left:66.5px;top:259.4px;width:95.0px;height:2.1px;background:repeating-linear-gradient(90deg,#bdbdbd 0 11px,transparent 11px 12.3px,#bdbdbd 12.3px 19px,transparent 19px 20.3px,#bdbdbd 20.3px 23px,transparent 23px 24.3px);background-position:15px 0"></div><div class="a" style="left:66.5px;top:269.0px;width:149.5px;height:2.1px;background:repeating-linear-gradient(90deg,#bdbdbd 0 11px,transparent 11px 12.3px,#bdbdbd 12.3px 19px,transparent 19px 20.3px,#bdbdbd 20.3px 23px,transparent 23px 24.3px);background-position:0px 0"></div><div class="a" style="left:66.5px;top:275.1px;width:149.5px;height:2.1px;background:repeating-linear-gradient(90deg,#bdbdbd 0 11px,transparent 11px 12.3px,#bdbdbd 12.3px 19px,transparent 19px 20.3px,#bdbdbd 20.3px 23px,transparent 23px 24.3px);background-position:13px 0"></div><div class="a" style="left:66.5px;top:281.3px;width:149.5px;height:2.1px;background:repeating-linear-gradient(90deg,#bdbdbd 0 11px,transparent 11px 12.3px,#bdbdbd 12.3px 19px,transparent 19px 20.3px,#bdbdbd 20.3px 23px,transparent 23px 24.3px);background-position:2px 0"></div><div class="a" style="left:66.5px;top:287.4px;width:149.5px;height:2.1px;background:repeating-linear-gradient(90deg,#bdbdbd 0 11px,transparent 11px 12.3px,#bdbdbd 12.3px 19px,transparent 19px 20.3px,#bdbdbd 20.3px 23px,transparent 23px 24.3px);background-position:15px 0"></div><div class="a" style="left:66.5px;top:293.6px;width:100.0px;height:2.1px;background:repeating-linear-gradient(90deg,#bdbdbd 0 11px,transparent 11px 12.3px,#bdbdbd 12.3px 19px,transparent 19px 20.3px,#bdbdbd 20.3px 23px,transparent 23px 24.3px);background-position:4px 0"></div><div class="a" style="left:11.5px;top:244.5px;width:34.0px;height:9.0px;background:#d6338f;border-radius:0 3px 3px 0"></div><div class="a" style="left:11.5px;top:253.5px;width:2.5px;height:2.5px;background:#9a1a60;clip-path:polygon(0 0,100% 0,100% 100%)"></div><div class="a" style="left:15.5px;top:248.0px;width:20.0px;height:2.0px;background:#f7c3df"></div><div class="a" style="left:14.5px;top:255.5px;width:1.0px;height:40.0px;background:#ddd"></div><div class="a" style="left:17.5px;top:259.5px;width:25.0px;height:1.8px;background:#a9a9a9"></div><div class="a" style="left:17.5px;top:265.4px;width:36.0px;height:1.8px;background:#a9a9a9"></div><div class="a" style="left:17.5px;top:271.3px;width:33.0px;height:1.8px;background:#a9a9a9"></div><div class="a" style="left:17.5px;top:277.2px;width:28.0px;height:1.8px;background:#a9a9a9"></div><div class="a" style="left:17.5px;top:283.1px;width:35.0px;height:1.8px;background:#a9a9a9"></div><div class="a" style="left:17.5px;top:289.0px;width:40.0px;height:1.8px;background:#a9a9a9"></div><div class="t" style="left:14.5px;top:302.0px;font-size:5.4px;font-weight:bold;letter-spacing:0px;color:#555;">184</div><div class="a" style="left:26.5px;top:303.5px;width:20.0px;height:1.2px;background:#c4c4c4"></div><div class="a" style="left:26.5px;top:306.5px;width:14.0px;height:1.2px;background:#c4c4c4"></div></div>
<div class="fr" style="left:906.5px;top:1565.8px;width:481.5px;height:319.6px"><div class="a" style="left:12.5px;top:34.2px;width:207.0px;height:261.1px;background:#fdebe8"></div><div class="a" style="left:12.5px;top:14.7px;width:207.0px;height:14.5px;background:linear-gradient(90deg,#e3202e 0%,#e4202e 55%,#d01a2c 75%,#c4182a 100%)"></div><div class="a" style="left:205.5px;top:14.7px;width:14.0px;height:14.5px;background:#f2a81d;clip-path:polygon(0 0,100% 0,100% 100%,70% 100%)"></div><div class="t" style="left:16.5px;top:18.7px;font-size:6.2px;font-weight:bold;letter-spacing:0.1px;color:#fbd8da;font-weight:normal">Proyecto interdisciplinario CITAM + H</div><div class="t" style="left:185.5px;top:17.0px;font-size:4.4px;font-weight:bold;letter-spacing:0px;color:#fbe3e3;">DUA</div><div class="a" style="left:177.5px;top:23.5px;width:26.0px;height:1.2px;background:#f7c0c4"></div><div class="t" style="left:14.5px;top:39.7px;font-size:4.9px;font-weight:bold;letter-spacing:0px;color:#333;">"Eco-tarjetas: papel reciclado con amor"</div><div class="a" style="left:9.3px;top:49.8px;width:64.0px;height:6.5px;background:#e4202e;border-radius:3px 3.5px 3.5px 0"></div><div class="a" style="left:9.3px;top:56.3px;width:2.0px;height:2.0px;background:#9a1520;clip-path:polygon(0 0,100% 0,100% 100%)"></div><div class="a" style="left:12.3px;top:52.0px;width:48.0px;height:2.0px;background:#f6b8bb"></div><div class="a" style="left:9.3px;top:141.2px;width:29.7px;height:6.5px;background:#e4202e;border-radius:3px 3.5px 3.5px 0"></div><div class="a" style="left:9.3px;top:147.7px;width:2.0px;height:2.0px;background:#9a1520;clip-path:polygon(0 0,100% 0,100% 100%)"></div><div class="a" style="left:12.3px;top:143.4px;width:22.3px;height:2.0px;background:#f6b8bb"></div><div class="a" style="left:9.3px;top:183.5px;width:64.0px;height:6.5px;background:#e4202e;border-radius:3px 3.5px 3.5px 0"></div><div class="a" style="left:9.3px;top:190.0px;width:2.0px;height:2.0px;background:#9a1520;clip-path:polygon(0 0,100% 0,100% 100%)"></div><div class="a" style="left:12.3px;top:185.7px;width:48.0px;height:2.0px;background:#f6b8bb"></div><div class="a" style="left:9.3px;top:242.9px;width:107.8px;height:6.5px;background:#e4202e;border-radius:3px 3.5px 3.5px 0"></div><div class="a" style="left:9.3px;top:249.4px;width:2.0px;height:2.0px;background:#9a1520;clip-path:polygon(0 0,100% 0,100% 100%)"></div><div class="a" style="left:12.3px;top:245.1px;width:80.8px;height:2.0px;background:#f6b8bb"></div><div class="a" style="left:164.5px;top:46.7px;width:51.0px;height:44.5px;background:#fff"></div><div class="a" style="left:184.5px;top:50.5px;width:11.0px;height:11.0px;border:1.3px solid #3b7cc4;border-radius:50%;background:radial-gradient(circle,#a8c8ea 0 30%,transparent 35%)"></div><div class="t" style="left:168.0px;top:65.5px;font-size:7.4px;font-weight:bold;letter-spacing:-0.25px;color:#1f73c1;">OBJETIVOS</div><div class="a" style="left:168.5px;top:75.0px;width:43.0px;height:2.6px;background:repeating-linear-gradient(90deg,#2a7bc8 0 3px,transparent 3px 3.6px)"></div><div class="t" style="left:169.5px;top:78.5px;font-size:6.6px;font-weight:bold;letter-spacing:-0.25px;color:#1f73c1;">SOSTENIBLE</div><div class="a" style="left:14.8px;top:59.8px;width:146.0px;height:2.1px;background:repeating-linear-gradient(90deg,#c0b2af 0 10px,transparent 10px 11.5px,#b9a9a6 11.5px 21px,transparent 21px 22.5px,#b9a9a6 22.5px 27px,transparent 27px 28.5px);background-position:0px 0"></div><div class="a" style="left:14.8px;top:66.2px;width:146.0px;height:2.1px;background:repeating-linear-gradient(90deg,#c0b2af 0 10px,transparent 10px 11.5px,#b9a9a6 11.5px 21px,transparent 21px 22.5px,#b9a9a6 22.5px 27px,transparent 27px 28.5px);background-position:9px 0"></div><div class="a" style="left:14.8px;top:72.7px;width:146.0px;height:2.1px;background:repeating-linear-gradient(90deg,#c0b2af 0 10px,transparent 10px 11.5px,#b9a9a6 11.5px 21px,transparent 21px 22.5px,#b9a9a6 22.5px 27px,transparent 27px 28.5px);background-position:18px 0"></div><div class="a" style="left:14.8px;top:79.2px;width:146.0px;height:2.1px;background:repeating-linear-gradient(90deg,#c0b2af 0 10px,transparent 10px 11.5px,#b9a9a6 11.5px 21px,transparent 21px 22.5px,#b9a9a6 22.5px 27px,transparent 27px 28.5px);background-position:4px 0"></div><div class="a" style="left:14.8px;top:85.6px;width:146.0px;height:2.1px;background:repeating-linear-gradient(90deg,#c0b2af 0 10px,transparent 10px 11.5px,#b9a9a6 11.5px 21px,transparent 21px 22.5px,#b9a9a6 22.5px 27px,transparent 27px 28.5px);background-position:13px 0"></div><div class="a" style="left:14.8px;top:92.0px;width:95.0px;height:2.1px;background:repeating-linear-gradient(90deg,#c0b2af 0 10px,transparent 10px 11.5px,#b9a9a6 11.5px 21px,transparent 21px 22.5px,#b9a9a6 22.5px 27px,transparent 27px 28.5px);background-position:22px 0"></div><div class="a" style="left:14.8px;top:100.7px;width:201.0px;height:2.1px;background:repeating-linear-gradient(90deg,#c0b2af 0 10px,transparent 10px 11.5px,#b9a9a6 11.5px 21px,transparent 21px 22.5px,#b9a9a6 22.5px 27px,transparent 27px 28.5px);background-position:0px 0"></div><div class="a" style="left:14.8px;top:107.0px;width:201.0px;height:2.1px;background:repeating-linear-gradient(90deg,#c0b2af 0 10px,transparent 10px 11.5px,#b9a9a6 11.5px 21px,transparent 21px 22.5px,#b9a9a6 22.5px 27px,transparent 27px 28.5px);background-position:9px 0"></div><div class="a" style="left:14.8px;top:113.3px;width:201.0px;height:2.1px;background:repeating-linear-gradient(90deg,#c0b2af 0 10px,transparent 10px 11.5px,#b9a9a6 11.5px 21px,transparent 21px 22.5px,#b9a9a6 22.5px 27px,transparent 27px 28.5px);background-position:18px 0"></div><div class="a" style="left:14.8px;top:119.6px;width:201.0px;height:2.1px;background:repeating-linear-gradient(90deg,#c0b2af 0 10px,transparent 10px 11.5px,#b9a9a6 11.5px 21px,transparent 21px 22.5px,#b9a9a6 22.5px 27px,transparent 27px 28.5px);background-position:4px 0"></div><div class="a" style="left:14.8px;top:125.9px;width:201.0px;height:2.1px;background:repeating-linear-gradient(90deg,#c0b2af 0 10px,transparent 10px 11.5px,#b9a9a6 11.5px 21px,transparent 21px 22.5px,#b9a9a6 22.5px 27px,transparent 27px 28.5px);background-position:13px 0"></div><div class="a" style="left:14.8px;top:132.2px;width:175.0px;height:2.1px;background:repeating-linear-gradient(90deg,#c0b2af 0 10px,transparent 10px 11.5px,#b9a9a6 11.5px 21px,transparent 21px 22.5px,#b9a9a6 22.5px 27px,transparent 27px 28.5px);background-position:22px 0"></div><div class="a" style="left:27.5px;top:100.8px;width:20.0px;height:2.3px;background:#555"></div><div class="a" style="left:21.0px;top:151.9px;width:191.0px;height:2.1px;background:repeating-linear-gradient(90deg,#c0b2af 0 10px,transparent 10px 11.5px,#b9a9a6 11.5px 21px,transparent 21px 22.5px,#b9a9a6 22.5px 27px,transparent 27px 28.5px);background-position:0px 0"></div><div class="a" style="left:21.0px;top:158.2px;width:55.0px;height:2.1px;background:repeating-linear-gradient(90deg,#c0b2af 0 10px,transparent 10px 11.5px,#b9a9a6 11.5px 21px,transparent 21px 22.5px,#b9a9a6 22.5px 27px,transparent 27px 28.5px);background-position:9px 0"></div><div class="a" style="left:21.0px;top:167.5px;width:191.0px;height:2.1px;background:repeating-linear-gradient(90deg,#c0b2af 0 10px,transparent 10px 11.5px,#b9a9a6 11.5px 21px,transparent 21px 22.5px,#b9a9a6 22.5px 27px,transparent 27px 28.5px);background-position:0px 0"></div><div class="a" style="left:21.0px;top:176.3px;width:150.0px;height:2.1px;background:repeating-linear-gradient(90deg,#c0b2af 0 10px,transparent 10px 11.5px,#b9a9a6 11.5px 21px,transparent 21px 22.5px,#b9a9a6 22.5px 27px,transparent 27px 28.5px);background-position:0px 0"></div><div class="a" style="left:14.8px;top:195.9px;width:201.0px;height:2.1px;background:repeating-linear-gradient(90deg,#c0b2af 0 10px,transparent 10px 11.5px,#b9a9a6 11.5px 21px,transparent 21px 22.5px,#b9a9a6 22.5px 27px,transparent 27px 28.5px);background-position:0px 0"></div><div class="a" style="left:14.8px;top:202.1px;width:140.0px;height:2.1px;background:repeating-linear-gradient(90deg,#c0b2af 0 10px,transparent 10px 11.5px,#b9a9a6 11.5px 21px,transparent 21px 22.5px,#b9a9a6 22.5px 27px,transparent 27px 28.5px);background-position:9px 0"></div><div class="a" style="left:14.8px;top:195.9px;width:22.0px;height:2.3px;background:#444"></div><div class="a" style="left:14.8px;top:210.4px;width:152.0px;height:2.1px;background:repeating-linear-gradient(90deg,#c0b2af 0 10px,transparent 10px 11.5px,#b9a9a6 11.5px 21px,transparent 21px 22.5px,#b9a9a6 22.5px 27px,transparent 27px 28.5px);background-position:0px 0"></div><div class="a" style="left:14.8px;top:218.5px;width:201.0px;height:2.1px;background:repeating-linear-gradient(90deg,#c0b2af 0 10px,transparent 10px 11.5px,#b9a9a6 11.5px 21px,transparent 21px 22.5px,#b9a9a6 22.5px 27px,transparent 27px 28.5px);background-position:0px 0"></div><div class="a" style="left:14.8px;top:224.6px;width:201.0px;height:2.1px;background:repeating-linear-gradient(90deg,#c0b2af 0 10px,transparent 10px 11.5px,#b9a9a6 11.5px 21px,transparent 21px 22.5px,#b9a9a6 22.5px 27px,transparent 27px 28.5px);background-position:9px 0"></div><div class="a" style="left:14.8px;top:232.9px;width:120.0px;height:2.1px;background:repeating-linear-gradient(90deg,#c0b2af 0 10px,transparent 10px 11.5px,#b9a9a6 11.5px 21px,transparent 21px 22.5px,#b9a9a6 22.5px 27px,transparent 27px 28.5px);background-position:0px 0"></div><div class="a" style="left:14.8px;top:255.2px;width:126.5px;height:2.1px;background:repeating-linear-gradient(90deg,#c0b2af 0 10px,transparent 10px 11.5px,#b9a9a6 11.5px 21px,transparent 21px 22.5px,#b9a9a6 22.5px 27px,transparent 27px 28.5px);background-position:0px 0"></div><div class="a" style="left:14.8px;top:261.6px;width:126.5px;height:2.1px;background:repeating-linear-gradient(90deg,#c0b2af 0 10px,transparent 10px 11.5px,#b9a9a6 11.5px 21px,transparent 21px 22.5px,#b9a9a6 22.5px 27px,transparent 27px 28.5px);background-position:9px 0"></div><div class="a" style="left:14.8px;top:267.9px;width:126.5px;height:2.1px;background:repeating-linear-gradient(90deg,#c0b2af 0 10px,transparent 10px 11.5px,#b9a9a6 11.5px 21px,transparent 21px 22.5px,#b9a9a6 22.5px 27px,transparent 27px 28.5px);background-position:18px 0"></div><div class="a" style="left:14.8px;top:274.2px;width:73.0px;height:2.1px;background:repeating-linear-gradient(90deg,#c0b2af 0 10px,transparent 10px 11.5px,#b9a9a6 11.5px 21px,transparent 21px 22.5px,#b9a9a6 22.5px 27px,transparent 27px 28.5px);background-position:4px 0"></div><div class="a" style="left:14.8px;top:255.2px;width:16.0px;height:2.3px;background:#444"></div><div class="a" style="left:14.8px;top:282.5px;width:38.0px;height:2.1px;background:#7cc0e8"></div><div class="a" style="left:149.9px;top:240.5px;width:64.1px;height:54.0px;background:#fbf8f7"></div><div class="a" style="left:151.5px;top:242.0px;width:12.0px;height:1.5px;background:#e4202e"></div><div class="a" style="left:156.9px;top:249.2px;width:56.3px;height:41.3px;background:linear-gradient(90deg,#3f9a3a 0%,#5aa83a 35%,#c8a030 60%,#d88a28 80%,#b86a20 100%)"></div><div class="a" style="left:156.9px;top:282.5px;width:56.3px;height:8.0px;background:#6a5a3a;opacity:.8"></div><div class="a" style="left:165.5px;top:259.5px;width:19.0px;height:24.0px;background:#f0b0a0;border-radius:40% 40% 30% 30%"></div><div class="a" style="left:161.5px;top:254.5px;width:14.0px;height:22.0px;background:#1a1a1a;border-radius:50% 20% 30% 50%"></div><div class="a" style="left:168.5px;top:279.5px;width:17.0px;height:9.0px;background:#d84a6a"></div><div class="a" style="left:197.5px;top:272.5px;width:12.0px;height:12.0px;background:#3a8ac8;opacity:.8"></div><div class="t" style="left:14.0px;top:302.0px;font-size:5.2px;font-weight:bold;letter-spacing:0px;color:#555;">285</div><div class="a" style="left:26.0px;top:303.0px;width:20.0px;height:1.2px;background:#c4c4c4"></div><div class="a" style="left:26.0px;top:306.0px;width:13.0px;height:1.2px;background:#c4c4c4"></div><div class="a" style="left:259.2px;top:14.9px;width:204.4px;height:279.2px;background:#fdebe8"></div><div class="a" style="left:262.2px;top:22.7px;width:128.8px;height:2.1px;background:repeating-linear-gradient(90deg,#c0b2af 0 10px,transparent 10px 11.5px,#b9a9a6 11.5px 21px,transparent 21px 22.5px,#b9a9a6 22.5px 27px,transparent 27px 28.5px);background-position:0px 0"></div><div class="a" style="left:262.2px;top:28.9px;width:128.8px;height:2.1px;background:repeating-linear-gradient(90deg,#c0b2af 0 10px,transparent 10px 11.5px,#b9a9a6 11.5px 21px,transparent 21px 22.5px,#b9a9a6 22.5px 27px,transparent 27px 28.5px);background-position:9px 0"></div><div class="a" style="left:262.2px;top:35.1px;width:128.8px;height:2.1px;background:repeating-linear-gradient(90deg,#c0b2af 0 10px,transparent 10px 11.5px,#b9a9a6 11.5px 21px,transparent 21px 22.5px,#b9a9a6 22.5px 27px,transparent 27px 28.5px);background-position:18px 0"></div><div class="a" style="left:262.2px;top:41.3px;width:54.0px;height:2.1px;background:repeating-linear-gradient(90deg,#c0b2af 0 10px,transparent 10px 11.5px,#b9a9a6 11.5px 21px,transparent 21px 22.5px,#b9a9a6 22.5px 27px,transparent 27px 28.5px);background-position:4px 0"></div><div class="a" style="left:262.2px;top:22.7px;width:22.0px;height:2.3px;background:#555"></div><div class="a" style="left:262.2px;top:34.7px;width:38.0px;height:2.1px;background:#7cc0e8"></div><div class="a" style="left:262.2px;top:53.4px;width:128.8px;height:2.1px;background:repeating-linear-gradient(90deg,#c0b2af 0 10px,transparent 10px 11.5px,#b9a9a6 11.5px 21px,transparent 21px 22.5px,#b9a9a6 22.5px 27px,transparent 27px 28.5px);background-position:0px 0"></div><div class="a" style="left:262.2px;top:59.7px;width:128.8px;height:2.1px;background:repeating-linear-gradient(90deg,#c0b2af 0 10px,transparent 10px 11.5px,#b9a9a6 11.5px 21px,transparent 21px 22.5px,#b9a9a6 22.5px 27px,transparent 27px 28.5px);background-position:9px 0"></div><div class="a" style="left:262.2px;top:66.0px;width:128.8px;height:2.1px;background:repeating-linear-gradient(90deg,#c0b2af 0 10px,transparent 10px 11.5px,#b9a9a6 11.5px 21px,transparent 21px 22.5px,#b9a9a6 22.5px 27px,transparent 27px 28.5px);background-position:18px 0"></div><div class="a" style="left:262.2px;top:72.3px;width:128.8px;height:2.1px;background:repeating-linear-gradient(90deg,#c0b2af 0 10px,transparent 10px 11.5px,#b9a9a6 11.5px 21px,transparent 21px 22.5px,#b9a9a6 22.5px 27px,transparent 27px 28.5px);background-position:4px 0"></div><div class="a" style="left:262.2px;top:78.6px;width:128.8px;height:2.1px;background:repeating-linear-gradient(90deg,#c0b2af 0 10px,transparent 10px 11.5px,#b9a9a6 11.5px 21px,transparent 21px 22.5px,#b9a9a6 22.5px 27px,transparent 27px 28.5px);background-position:13px 0"></div><div class="a" style="left:262.2px;top:84.9px;width:128.8px;height:2.1px;background:repeating-linear-gradient(90deg,#c0b2af 0 10px,transparent 10px 11.5px,#b9a9a6 11.5px 21px,transparent 21px 22.5px,#b9a9a6 22.5px 27px,transparent 27px 28.5px);background-position:22px 0"></div><div class="a" style="left:262.2px;top:91.2px;width:128.8px;height:2.1px;background:repeating-linear-gradient(90deg,#c0b2af 0 10px,transparent 10px 11.5px,#b9a9a6 11.5px 21px,transparent 21px 22.5px,#b9a9a6 22.5px 27px,transparent 27px 28.5px);background-position:8px 0"></div><div class="a" style="left:262.2px;top:97.5px;width:65.0px;height:2.1px;background:repeating-linear-gradient(90deg,#c0b2af 0 10px,transparent 10px 11.5px,#b9a9a6 11.5px 21px,transparent 21px 22.5px,#b9a9a6 22.5px 27px,transparent 27px 28.5px);background-position:17px 0"></div><div class="a" style="left:262.2px;top:53.4px;width:24.0px;height:2.3px;background:#555"></div><div class="a" style="left:262.2px;top:105.8px;width:128.8px;height:2.1px;background:repeating-linear-gradient(90deg,#c0b2af 0 10px,transparent 10px 11.5px,#b9a9a6 11.5px 21px,transparent 21px 22.5px,#b9a9a6 22.5px 27px,transparent 27px 28.5px);background-position:0px 0"></div><div class="a" style="left:262.2px;top:112.1px;width:128.8px;height:2.1px;background:repeating-linear-gradient(90deg,#c0b2af 0 10px,transparent 10px 11.5px,#b9a9a6 11.5px 21px,transparent 21px 22.5px,#b9a9a6 22.5px 27px,transparent 27px 28.5px);background-position:9px 0"></div><div class="a" style="left:262.2px;top:118.4px;width:90.0px;height:2.1px;background:repeating-linear-gradient(90deg,#c0b2af 0 10px,transparent 10px 11.5px,#b9a9a6 11.5px 21px,transparent 21px 22.5px,#b9a9a6 22.5px 27px,transparent 27px 28.5px);background-position:18px 0"></div><div class="a" style="left:313.5px;top:118.4px;width:40.0px;height:2.1px;background:#7cc0e8"></div><div class="a" style="left:262.2px;top:133.5px;width:128.8px;height:2.1px;background:repeating-linear-gradient(90deg,#c0b2af 0 10px,transparent 10px 11.5px,#b9a9a6 11.5px 21px,transparent 21px 22.5px,#b9a9a6 22.5px 27px,transparent 27px 28.5px);background-position:0px 0"></div><div class="a" style="left:262.2px;top:139.7px;width:128.8px;height:2.1px;background:repeating-linear-gradient(90deg,#c0b2af 0 10px,transparent 10px 11.5px,#b9a9a6 11.5px 21px,transparent 21px 22.5px,#b9a9a6 22.5px 27px,transparent 27px 28.5px);background-position:9px 0"></div><div class="a" style="left:262.2px;top:145.9px;width:128.8px;height:2.1px;background:repeating-linear-gradient(90deg,#c0b2af 0 10px,transparent 10px 11.5px,#b9a9a6 11.5px 21px,transparent 21px 22.5px,#b9a9a6 22.5px 27px,transparent 27px 28.5px);background-position:18px 0"></div><div class="a" style="left:262.2px;top:152.1px;width:128.8px;height:2.1px;background:repeating-linear-gradient(90deg,#c0b2af 0 10px,transparent 10px 11.5px,#b9a9a6 11.5px 21px,transparent 21px 22.5px,#b9a9a6 22.5px 27px,transparent 27px 28.5px);background-position:4px 0"></div><div class="a" style="left:262.2px;top:158.3px;width:128.8px;height:2.1px;background:repeating-linear-gradient(90deg,#c0b2af 0 10px,transparent 10px 11.5px,#b9a9a6 11.5px 21px,transparent 21px 22.5px,#b9a9a6 22.5px 27px,transparent 27px 28.5px);background-position:13px 0"></div><div class="a" style="left:262.2px;top:164.5px;width:128.8px;height:2.1px;background:repeating-linear-gradient(90deg,#c0b2af 0 10px,transparent 10px 11.5px,#b9a9a6 11.5px 21px,transparent 21px 22.5px,#b9a9a6 22.5px 27px,transparent 27px 28.5px);background-position:22px 0"></div><div class="a" style="left:262.2px;top:170.7px;width:60.0px;height:2.1px;background:repeating-linear-gradient(90deg,#c0b2af 0 10px,transparent 10px 11.5px,#b9a9a6 11.5px 21px,transparent 21px 22.5px,#b9a9a6 22.5px 27px,transparent 27px 28.5px);background-position:8px 0"></div><div class="a" style="left:262.2px;top:133.5px;width:12.0px;height:2.3px;background:#555"></div><div class="a" style="left:301.5px;top:175.5px;width:35.0px;height:2.1px;background:#7cc0e8"></div><div class="a" style="left:262.2px;top:188.5px;width:128.8px;height:2.1px;background:repeating-linear-gradient(90deg,#c0b2af 0 10px,transparent 10px 11.5px,#b9a9a6 11.5px 21px,transparent 21px 22.5px,#b9a9a6 22.5px 27px,transparent 27px 28.5px);background-position:0px 0"></div><div class="a" style="left:262.2px;top:194.7px;width:128.8px;height:2.1px;background:repeating-linear-gradient(90deg,#c0b2af 0 10px,transparent 10px 11.5px,#b9a9a6 11.5px 21px,transparent 21px 22.5px,#b9a9a6 22.5px 27px,transparent 27px 28.5px);background-position:9px 0"></div><div class="a" style="left:262.2px;top:200.9px;width:128.8px;height:2.1px;background:repeating-linear-gradient(90deg,#c0b2af 0 10px,transparent 10px 11.5px,#b9a9a6 11.5px 21px,transparent 21px 22.5px,#b9a9a6 22.5px 27px,transparent 27px 28.5px);background-position:18px 0"></div><div class="a" style="left:262.2px;top:207.1px;width:128.8px;height:2.1px;background:repeating-linear-gradient(90deg,#c0b2af 0 10px,transparent 10px 11.5px,#b9a9a6 11.5px 21px,transparent 21px 22.5px,#b9a9a6 22.5px 27px,transparent 27px 28.5px);background-position:4px 0"></div><div class="a" style="left:262.2px;top:213.3px;width:128.8px;height:2.1px;background:repeating-linear-gradient(90deg,#c0b2af 0 10px,transparent 10px 11.5px,#b9a9a6 11.5px 21px,transparent 21px 22.5px,#b9a9a6 22.5px 27px,transparent 27px 28.5px);background-position:13px 0"></div><div class="a" style="left:262.2px;top:219.5px;width:112.0px;height:2.1px;background:repeating-linear-gradient(90deg,#c0b2af 0 10px,transparent 10px 11.5px,#b9a9a6 11.5px 21px,transparent 21px 22.5px,#b9a9a6 22.5px 27px,transparent 27px 28.5px);background-position:22px 0"></div><div class="a" style="left:262.2px;top:188.5px;width:22.0px;height:2.3px;background:#555"></div><div class="a" style="left:262.2px;top:225.5px;width:128.8px;height:2.1px;background:repeating-linear-gradient(90deg,#c0b2af 0 10px,transparent 10px 11.5px,#b9a9a6 11.5px 21px,transparent 21px 22.5px,#b9a9a6 22.5px 27px,transparent 27px 28.5px);background-position:0px 0"></div><div class="a" style="left:262.2px;top:231.7px;width:128.8px;height:2.1px;background:repeating-linear-gradient(90deg,#c0b2af 0 10px,transparent 10px 11.5px,#b9a9a6 11.5px 21px,transparent 21px 22.5px,#b9a9a6 22.5px 27px,transparent 27px 28.5px);background-position:9px 0"></div><div class="a" style="left:262.2px;top:237.9px;width:105.0px;height:2.1px;background:repeating-linear-gradient(90deg,#c0b2af 0 10px,transparent 10px 11.5px,#b9a9a6 11.5px 21px,transparent 21px 22.5px,#b9a9a6 22.5px 27px,transparent 27px 28.5px);background-position:18px 0"></div><div class="a" style="left:262.2px;top:225.5px;width:27.0px;height:2.3px;background:#555"></div><div class="a" style="left:397.0px;top:16.7px;width:65.9px;height:41.2px;background:linear-gradient(160deg,#3a302c 0%,#6a5a50 25%,#c8aaa0 45%,#9a7e74 60%,#5a4a44 80%,#3a3634 100%)"></div><div class="a" style="left:422.5px;top:27.5px;width:22.0px;height:16.0px;background:#c9a5a5;transform:rotate(-25deg);opacity:.9"></div><div class="a" style="left:397.0px;top:51.5px;width:65.9px;height:6.4px;background:#20392c"></div><div class="a" style="left:397.0px;top:64.5px;width:70.0px;height:50.3px;background:#f5f3f2"></div><div class="a" style="left:400.5px;top:67.5px;width:8.0px;height:9.0px;background:#f4c6a8"></div><div class="a" style="left:411.3px;top:67.5px;width:8.0px;height:9.0px;background:#c8d8f0"></div><div class="a" style="left:422.1px;top:67.5px;width:8.0px;height:9.0px;background:#f0c8d0"></div><div class="a" style="left:432.9px;top:67.5px;width:8.0px;height:9.0px;background:#e8e0c0"></div><div class="a" style="left:443.7px;top:67.5px;width:8.0px;height:9.0px;background:#d8c8e8"></div><div class="a" style="left:454.5px;top:67.5px;width:8.0px;height:9.0px;background:#c8e0c8"></div><div class="a" style="left:400.5px;top:79.2px;width:8.0px;height:9.0px;background:#e8e0c0"></div><div class="a" style="left:411.3px;top:79.2px;width:8.0px;height:9.0px;background:#d8c8e8"></div><div class="a" style="left:422.1px;top:79.2px;width:8.0px;height:9.0px;background:#c8e0c8"></div><div class="a" style="left:432.9px;top:79.2px;width:8.0px;height:9.0px;background:#f0d0b8"></div><div class="a" style="left:443.7px;top:79.2px;width:8.0px;height:9.0px;background:#f4c6a8"></div><div class="a" style="left:454.5px;top:79.2px;width:8.0px;height:9.0px;background:#c8d8f0"></div><div class="a" style="left:400.5px;top:90.9px;width:8.0px;height:9.0px;background:#f0d0b8"></div><div class="a" style="left:411.3px;top:90.9px;width:8.0px;height:9.0px;background:#f4c6a8"></div><div class="a" style="left:422.1px;top:90.9px;width:8.0px;height:9.0px;background:#c8d8f0"></div><div class="a" style="left:432.9px;top:90.9px;width:8.0px;height:9.0px;background:#f0c8d0"></div><div class="a" style="left:443.7px;top:90.9px;width:8.0px;height:9.0px;background:#e8e0c0"></div><div class="a" style="left:454.5px;top:90.9px;width:8.0px;height:9.0px;background:#d8c8e8"></div><div class="a" style="left:400.5px;top:102.6px;width:8.0px;height:9.0px;background:#f0c8d0"></div><div class="a" style="left:411.3px;top:102.6px;width:8.0px;height:9.0px;background:#e8e0c0"></div><div class="a" style="left:422.1px;top:102.6px;width:8.0px;height:9.0px;background:#d8c8e8"></div><div class="a" style="left:432.9px;top:102.6px;width:8.0px;height:9.0px;background:#c8e0c8"></div><div class="a" style="left:443.7px;top:102.6px;width:8.0px;height:9.0px;background:#f0d0b8"></div><div class="a" style="left:454.5px;top:102.6px;width:8.0px;height:9.0px;background:#f4c6a8"></div><div class="a" style="left:407.5px;top:100.5px;width:16.0px;height:11.0px;background:#3a2a7a"></div><div class="a" style="left:442.5px;top:100.5px;width:9.0px;height:10.0px;background:#4a3a30"></div><div class="a" style="left:452.5px;top:100.5px;width:10.0px;height:10.0px;background:#3a5aa0"></div><div class="a" style="left:397.0px;top:126.4px;width:65.9px;height:52.6px;background:linear-gradient(135deg,#e6d6c0 0%,#d6b89a 35%,#c8a078 50%,#5ab0c0 70%,#3aa84a 100%)"></div><div class="a" style="left:409.5px;top:131.5px;width:26.0px;height:8.0px;background:#f0f0f0;transform:rotate(-35deg);opacity:.85"></div><div class="a" style="left:425.5px;top:149.5px;width:18.0px;height:9.0px;background:#4ab84a;transform:rotate(-30deg)"></div><div class="a" style="left:397.0px;top:186.2px;width:65.9px;height:52.0px;background:radial-gradient(ellipse 30% 32% at 60% 58%,#1f4a18 0%,#2f6a22 45%,rgba(70,140,40,0) 100%),radial-gradient(ellipse at 25% 35%,#b8e08a 0%,#8cc850 35%,#62a832 75%,#4a9028 100%)"></div><div class="a" style="left:254.9px;top:248.0px;width:92.6px;height:6.5px;background:#e4202e;border-radius:3px 3.5px 3.5px 0"></div><div class="a" style="left:254.9px;top:254.5px;width:2.0px;height:2.0px;background:#9a1520;clip-path:polygon(0 0,100% 0,100% 100%)"></div><div class="a" style="left:257.9px;top:250.2px;width:69.4px;height:2.0px;background:#f6b8bb"></div><div class="a" style="left:262.2px;top:259.5px;width:110.0px;height:2.1px;background:repeating-linear-gradient(90deg,#c0b2af 0 10px,transparent 10px 11.5px,#b9a9a6 11.5px 21px,transparent 21px 22.5px,#b9a9a6 22.5px 27px,transparent 27px 28.5px);background-position:0px 0"></div><div class="a" style="left:330.5px;top:259.5px;width:20.0px;height:2.3px;background:#555"></div><div class="a" style="left:262.2px;top:271.5px;width:200.0px;height:0.9px;background:#d9c4c0"></div><div class="a" style="left:262.2px;top:278.0px;width:200.0px;height:0.9px;background:#d9c4c0"></div><div class="a" style="left:262.2px;top:284.5px;width:200.0px;height:0.9px;background:#d9c4c0"></div><div class="a" style="left:262.2px;top:291.0px;width:200.0px;height:0.9px;background:#d9c4c0"></div><div class="t" style="left:452.5px;top:302.0px;font-size:5.2px;font-weight:bold;letter-spacing:0px;color:#555;">257</div><div class="a" style="left:429.5px;top:303.0px;width:20.0px;height:1.2px;background:#c4c4c4"></div><div class="a" style="left:435.5px;top:306.0px;width:14.0px;height:1.2px;background:#c4c4c4"></div></div>
<div class="t thin" style="left:184px;top:924.7px;font-size:27.5px;line-height:36.3px"><b style="color:#231f20">Socioemocional.</b> Busca provocar en el<br>estudiante el desarrollo de la inteligencia<br>interpersonal e intrapersonal.</div>
<div class="t thin" style="left:809px;top:924.7px;font-size:27.5px;line-height:36.3px"><b style="color:#231f20">Seguridad vial y movilidad sostenible.</b> Existen<br>tema de las ciencias que se prestan para<br>vincularlos con este concepto, de manera fluida.</div>
<div class="a" style="left:259.3px;top:1050.0px;width:309.4px;height:72.3px;background:#f27b5b;border-radius:26px 36px 36px 0"></div>
<svg class="ic" width="72" height="73" style="left:258.6px;top:1050px;--bg:#f27b5b;color:rgba(255,255,240,.9)"><use href="#icg"/></svg>
<div class="a" style="left:259.3px;top:1122.3px;width:18.2px;height:18.0px;background:#c8543a;clip-path:polygon(0 0,100% 0,100% 100%)"></div>
<div class="a" style="left:277.0px;top:1122.3px;width:66.0px;height:333.0px;border-left:1.4px solid #4a4640;border-bottom:1.6px solid #4a4640;border-bottom-left-radius:30px"></div>
<div class="ht" style="left:336px;top:1076.8px;font-size:25.5px;letter-spacing:-0.7px">Socioemocional</div>
<div class="t body bg" style="left:299.8px;top:1140px;line-height:33.5px">La estadística posibilita<br>cuantificar la realidad<br>y disponer de los<br>elementos para<br>analizarla y cambiarla,<br>de esa manera se<br>asegura una mejor<br>calidad de vida de las<br>personas.</div>
<div class="a" style="left:961.0px;top:1042.2px;width:310.4px;height:73.0px;background:#2166b7;border-radius:26px 36px 36px 0"></div>
<svg class="ic" width="72" height="73" style="left:960.5px;top:1042.2px;--bg:#2166b7;color:rgba(255,255,240,.9)"><use href="#icg"/></svg>
<div class="a" style="left:961.0px;top:1115.2px;width:18.5px;height:18.0px;background:#164a8c;clip-path:polygon(0 0,100% 0,100% 100%)"></div>
<div class="a" style="left:979.0px;top:1115.2px;width:71.0px;height:399.0px;border-left:1.4px solid #4a4640;border-bottom:1.6px solid #4a4640;border-bottom-left-radius:30px"></div>
<div class="ht" style="left:1055px;top:1067.7px;font-size:25.5px;letter-spacing:-0.6px">Seguridad vial</div>
<div class="t body bg" style="left:1002.5px;top:1126.3px;line-height:33.3px">Según el Instituto<br>Nacional de Estadística<br>y Censos, en 2019 se<br>registraron en Ecuador<br>24 595 accidentes de<br>tránsito; en 2020 hubo<br>16 972; en 2021 se<br>produjeron 21 352.</div>
<div class="t body bg" style="left:1002.5px;top:1400.5px;line-height:33.3px;font-style:italic;letter-spacing:-0.6px">¿Qué problema mundial<br>hubo en 2020 para que esa<br>cifra haya disminuido?</div>
<div class="t h1" style="left:183px;top:1553px">Sección especial</div>
<div class="a" style="left:182px;top:1652px;width:582.4px;height:148.7px;background:#fff;border-radius:20px 20px 28px 28px;overflow:hidden"><div class="a" style="left:0;top:0;width:100%;height:48.6px;background:#e41d2d"></div></div>
<div class="ht" style="left:182px;width:582.4px;text-align:center;top:1664.4px;font-size:27.5px;letter-spacing:0.15px;-webkit-text-stroke:0.5px #e41d2d">Proyecto interdisciplinario CITAM + H</div>
<div class="t body" style="left:198px;top:1710.9px;line-height:33.5px">Lo último en pedagogía. Afianza competencias<br>científicas y la interdisciplinariedad.</div>
<div class="t" style="left:1150px;width:204.3px;text-align:right;top:1934.4px;font-size:22px;letter-spacing:1.9px;color:#5d5e61;line-height:1;-webkit-text-stroke:0.5px #fff">Matemática</div>
<div class="t" style="left:1150px;width:201.3px;text-align:right;top:1957.6px;font-size:21px;letter-spacing:0.6px;color:#5d5e61;line-height:1;-webkit-text-stroke:0.5px #fff">5.º EGB</div>
<div class="t" style="left:1411px;top:1934.3px;font-size:37px;font-weight:bold;color:#5d5e60">5</div>
<div class="t" style="left:93px;top:1493px;transform-origin:0 0;transform:rotate(-90deg);font-size:22.2px;line-height:22px;letter-spacing:0.08px;color:#e2137f">©<b style="font-size:28px;margin-left:2px;letter-spacing:-0.3px">maya</b><span style="font-size:11px;vertical-align:7px;margin-left:2px;margin-right:3px">®</span>EDUCACIÓN – Libro resuelto solo para fines didácticos – Prohibida su reproducción</div>
</body></html>
